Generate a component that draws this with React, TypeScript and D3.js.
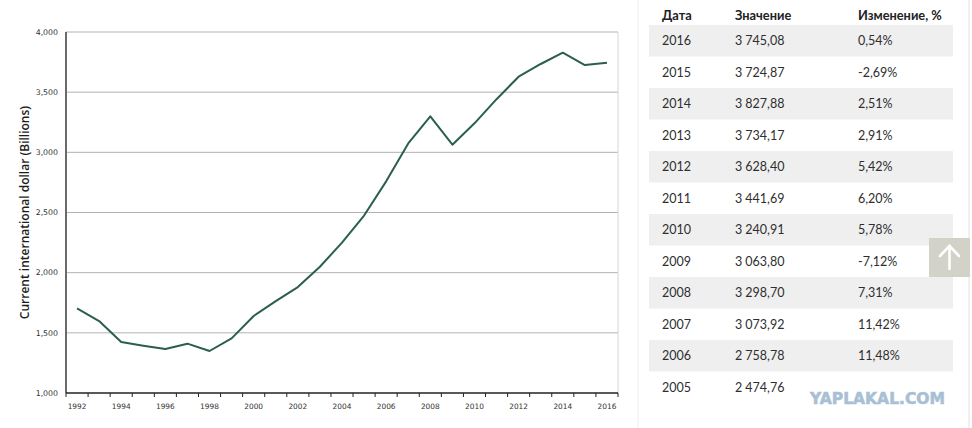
import React from "react";
import * as d3 from "d3";

// GDP, PPP (current international $, billions)
const years: number[] = d3.range(1992, 2017);
const gdp: number[] = [
    1703, 1598, 1424, 1393, 1365, 1410, 1349, 1454, 1640, 1764, 1880, 2049,
    2250, 2474.76, 2758.78, 3073.92, 3298.7, 3063.8, 3240.91, 3441.69, 3628.4,
    3734.17, 3827.88, 3724.87, 3745.08,
];

const yTicks: number[] = [1000, 1500, 2000, 2500, 3000, 3500, 4000];
const xLabelYears: number[] = d3.range(1992, 2017, 2);

const tableYears: number[] = [
    2016, 2015, 2014, 2013, 2012, 2011, 2010, 2009, 2008, 2007, 2006, 2005,
];
const tableValues: number[] = [
    3745.08, 3724.87, 3827.88, 3734.17, 3628.4, 3441.69, 3240.91, 3063.8,
    3298.7, 3073.92, 2758.78, 2474.76,
];
const tableChanges: (number | null)[] = [
    0.54, -2.69, 2.51, 2.91, 5.42, 6.2, 5.78, -7.12, 7.31, 11.42, 11.48, null,
];
const tableHeaders: string[] = ["Дата", "Значение", "Изменение, %"];

const W = 972;
const H = 428;
const plot = { left: 66, right: 618, top: 32, bottom: 393 };
const lineColor = "#2b5f4c";

const fmtValue = (v: number) => {
    const [int, dec] = v.toFixed(2).split(".");
    return int.replace(/\B(?=(\d{3})+(?!\d))/g, "\u202f") + "," + dec;
};
const fmtChange = (v: number | null) =>
    v === null ? "" : v.toFixed(2).replace(".", ",") + "%";

const App: React.FC = () => {
    const x = d3
        .scaleBand<number>()
        .domain(years)
        .range([plot.left, plot.right])
        .padding(0);
    const y = d3
        .scaleLinear()
        .domain([1000, 4000])
        .range([plot.bottom, plot.top]);

    const line = d3
        .line<number>()
        .x((_, i) => (x(years[i]) as number) + x.bandwidth() / 2)
        .y((d) => y(d));

    const tickXs = years.map((yr) => x(yr) as number).concat(plot.right);

    // table geometry
    const tLeft = 649;
    const tRight = 953;
    const rowTop = 25;
    const rowH = 31.5;
    const colX = [662, 735, 858];

    return (
        <svg
            width={W}
            height={H}
            style={{ position: "absolute", left: 0, top: 0, background: "#fff" }}
        >
            {/* gridlines */}
            <g>
                {yTicks
                    .filter((t) => t > 1000)
                    .map((t) => (
                        <line
                            key={t}
                            x1={plot.left}
                            x2={plot.right}
                            y1={y(t)}
                            y2={y(t)}
                            stroke="#b3b3b3"
                            strokeWidth={1}
                        />
                    ))}
                <line
                    x1={plot.right}
                    x2={plot.right}
                    y1={plot.top}
                    y2={plot.bottom}
                    stroke="#d6d6d6"
                />
            </g>

            {/* y axis */}
            <line
                x1={plot.left}
                x2={plot.left}
                y1={plot.top}
                y2={plot.bottom}
                stroke="#6a6a6a"
                strokeWidth={2}
            />
            <g fontFamily="'DejaVu Sans', Verdana, sans-serif" fontSize={7.8} fill="#333">
                {yTicks.map((t) => (
                    <text key={t} x={58} y={y(t)} dy="0.35em" textAnchor="end">
                        {d3.format(",")(t)}
                    </text>
                ))}
            </g>
            <text
                transform={`translate(25,${(plot.top + plot.bottom) / 2}) rotate(-90)`}
                textAnchor="middle"
                dy="0.35em"
                fontFamily="'Open Sans', 'Noto Sans', sans-serif"
                fontWeight={600}
                fontSize={12}
                fill="#1e1e1e"
            >
                Current international dollar (Billions)
            </text>

            {/* x axis */}
            <line
                x1={plot.left}
                x2={plot.right}
                y1={plot.bottom}
                y2={plot.bottom}
                stroke="#222"
                strokeWidth={1.5}
            />
            {tickXs.map((tx, i) => (
                <line
                    key={i}
                    x1={tx}
                    x2={tx}
                    y1={plot.bottom}
                    y2={plot.bottom + 4}
                    stroke="#222"
                    strokeWidth={1}
                />
            ))}
            <g fontFamily="'DejaVu Sans', Verdana, sans-serif" fontSize={7.4} fill="#333">
                {xLabelYears.map((yr) => (
                    <text
                        key={yr}
                        x={(x(yr) as number) + x.bandwidth() / 2}
                        y={406}
                        dy="0.35em"
                        textAnchor="middle"
                    >
                        {yr}
                    </text>
                ))}
            </g>

            {/* series */}
            <path
                d={line(gdp) || ""}
                fill="none"
                stroke={lineColor}
                strokeWidth={2}
                strokeLinejoin="round"
            />

            {/* table */}
            <line x1={638} x2={638} y1={0} y2={H} stroke="#f0f0f0" />
            <line x1={969} x2={969} y1={0} y2={H} stroke="#e2e2e2" />
            <g fontFamily="Lato, 'Open Sans', sans-serif">
                {tableHeaders.map((h, i) => (
                    <text
                        key={h}
                        x={colX[i]}
                        y={16}
                        dy="0.35em"
                        fontSize={12.8}
                        fontWeight={700}
                        fill="#222"
                    >
                        {h}
                    </text>
                ))}
                {tableYears.map((yr, i) => {
                    const top = rowTop + i * rowH;
                    const cy = top + rowH / 2;
                    return (
                        <g key={yr}>
                            {i % 2 === 0 && (
                                <rect
                                    x={tLeft}
                                    y={top}
                                    width={tRight - tLeft}
                                    height={rowH}
                                    fill="#efefef"
                                />
                            )}
                            <g fontSize={12.5} fill="#2e2e2e">
                                <text x={colX[0]} y={cy} dy="0.35em">
                                    {yr}
                                </text>
                                <text x={colX[1]} y={cy} dy="0.35em">
                                    {fmtValue(tableValues[i])}
                                </text>
                                <text x={colX[2]} y={cy} dy="0.35em">
                                    {fmtChange(tableChanges[i])}
                                </text>
                            </g>
                        </g>
                    );
                })}
            </g>

            {/* scroll-to-top button */}
            <rect x={929} y={238} width={41} height={39} fill="#d2d2c8" />
            <g stroke="#fff" strokeWidth={2.6} fill="none" strokeLinecap="round">
                <line x1={949.5} x2={949.5} y1={246} y2={269} />
                <polyline points="940,256 949.5,246 959,256" />
            </g>

            {/* watermark */}
            <text
                x={810}
                y={398}
                dy="0.35em"
                textLength={135}
                lengthAdjust="spacingAndGlyphs"
                fontFamily="'DejaVu Sans', sans-serif"
                fontWeight={700}
                fontSize={16}
                fill="#a9bfd5"
                stroke="#a9bfd5"
                strokeWidth={0.6}
            >
                YAPLAKAL.COM
            </text>
        </svg>
    );
};

export default App;
